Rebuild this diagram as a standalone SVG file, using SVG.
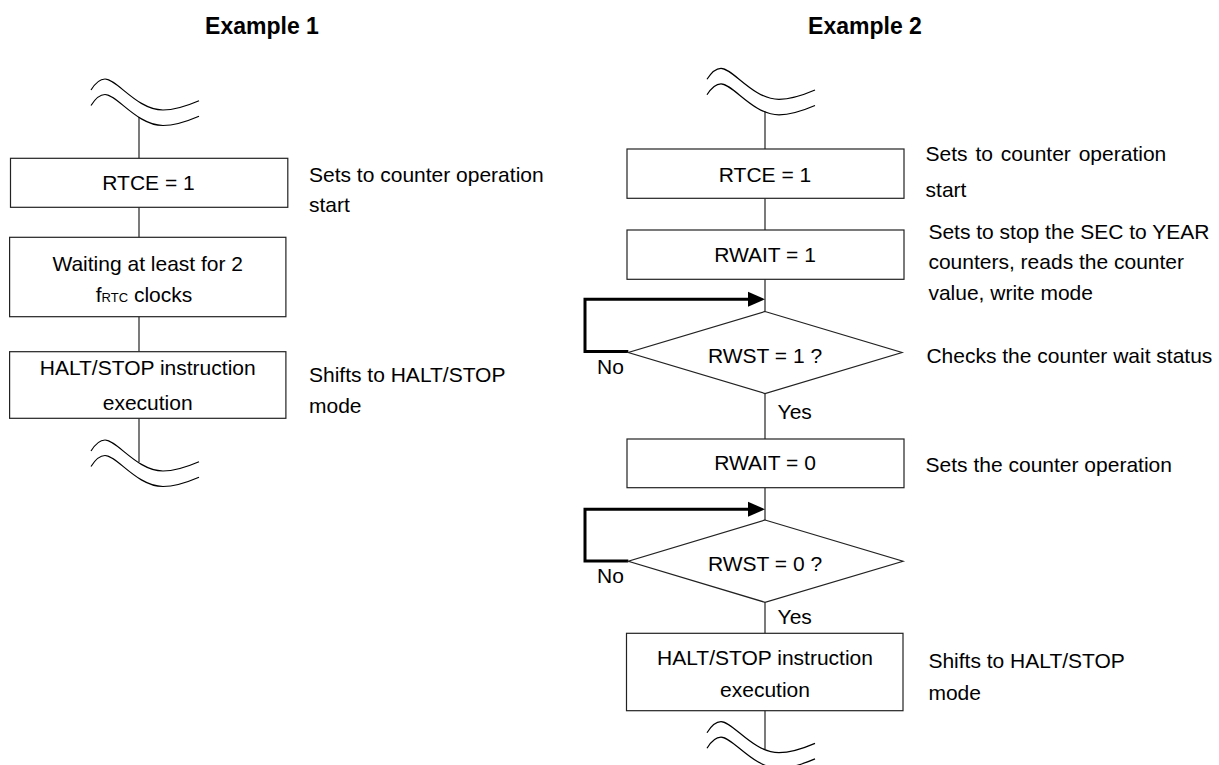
<svg xmlns="http://www.w3.org/2000/svg" width="1219" height="765" viewBox="0 0 1219 765">
<style>
text{font-family:"Liberation Sans",Arial,sans-serif;font-size:21px;fill:#000}
.t{font-weight:bold;font-size:23px;text-anchor:middle}
.c{text-anchor:middle}
.box{fill:#fff;stroke:#222;stroke-width:1.2}
.ln{fill:none;stroke:#222;stroke-width:1.2}
.loop{fill:none;stroke:#000;stroke-width:3}
.brk{fill:none;stroke:#000;stroke-width:1.2}
.sm{font-size:13px}
</style>
<defs>
<g id="break">
<path class="brk" d="M0,11 C5,3 9,0 14,0 C26,0 46,31 72,31 C86,31 98,26 108,21.7"/>
<path class="brk" d="M0,26.5 C5,18.5 9,15.5 14,15.5 C26,15.5 46,46.5 72,46.5 C86,46.5 98,41.5 108,37.2"/>
</g>
</defs>
<text class="t" x="262" y="34">Example 1</text>
<text class="t" x="865" y="34">Example 2</text>
<g id="connectors">
<line class="ln" x1="139" y1="117" x2="139" y2="158.3"/>
<line class="ln" x1="139" y1="207.3" x2="139" y2="237.3"/>
<line class="ln" x1="139" y1="316.7" x2="139" y2="351.7"/>
<line class="ln" x1="139" y1="418.3" x2="139" y2="462"/>
<line class="ln" x1="765" y1="111.5" x2="765" y2="149"/>
<line class="ln" x1="765" y1="198.3" x2="765" y2="230"/>
<line class="ln" x1="765" y1="279.3" x2="765" y2="311.5"/>
<line class="ln" x1="765" y1="393.5" x2="765" y2="439"/>
<line class="ln" x1="765" y1="487.7" x2="765" y2="520"/>
<line class="ln" x1="765" y1="602.3" x2="765" y2="633.3"/>
<line class="ln" x1="765" y1="710.7" x2="765" y2="749"/>
<path class="loop" d="M628.3,351.5 H585 V299.3 H750"/>
<polygon points="748,291.8 765,299.3 748,306.8" fill="#000"/>
<path class="loop" d="M628.3,561 H585 V509.3 H750"/>
<polygon points="748,501.8 765,509.3 748,516.8" fill="#000"/>
</g>
<use href="#break" x="91" y="79"/>
<use href="#break" x="91" y="440"/>
<use href="#break" x="707" y="68.3"/>
<use href="#break" x="707" y="721.7"/>
<g id="ex1-rtce">
<rect class="box" x="10.5" y="158.3" width="277.3" height="49"/>
<text class="c" x="148.5" y="190">RTCE = 1</text>
</g>
<g id="ex1-wait">
<rect class="box" x="9.6" y="237.3" width="276.3" height="79.4"/>
<text class="c" x="147.7" y="270.7">Waiting at least for 2</text>
<text class="c" x="144" y="301.7">f<tspan class="sm">RTC</tspan> clocks</text>
</g>
<g id="ex1-halt">
<rect class="box" x="9.6" y="351.7" width="276.3" height="66.6"/>
<text class="c" x="147.7" y="375">HALT/STOP instruction</text>
<text class="c" x="147.7" y="410">execution</text>
</g>
<g id="ex1-notes">
<text x="309" y="181.7">Sets to counter operation</text>
<text x="309" y="212.3">start</text>
<text x="309" y="381.7">Shifts to HALT/STOP</text>
<text x="309" y="413.3">mode</text>
</g>
<g id="ex2-rtce">
<rect class="box" x="627" y="149" width="277" height="49.3"/>
<text class="c" x="765" y="181.7">RTCE = 1</text>
</g>
<g id="ex2-rwait1">
<rect class="box" x="627" y="230" width="277" height="49.3"/>
<text class="c" x="765" y="261.7">RWAIT = 1</text>
</g>
<g id="ex2-rwst1">
<polygon class="box" points="765,311.5 902,352.5 765,393.5 628.3,352.5"/>
<text class="c" x="765" y="363.3">RWST = 1 ?</text>
<text x="597" y="374">No</text>
<text x="777.6" y="419.3">Yes</text>
</g>
<g id="ex2-rwait0">
<rect class="box" x="627" y="439" width="277" height="48.7"/>
<text class="c" x="765" y="470">RWAIT = 0</text>
</g>
<g id="ex2-rwst0">
<polygon class="box" points="765,520 903,561.2 765,602.3 628.3,561.2"/>
<text class="c" x="765" y="571">RWST = 0 ?</text>
<text x="597" y="583.3">No</text>
<text x="777.6" y="624.3">Yes</text>
</g>
<g id="ex2-halt">
<rect class="box" x="626.5" y="633.3" width="276.5" height="77.4"/>
<text class="c" x="765" y="665">HALT/STOP instruction</text>
<text class="c" x="765" y="696.7">execution</text>
</g>
<g id="ex2-notes">
<text x="925.6" y="161" word-spacing="2">Sets to counter operation</text>
<text x="925.6" y="196.7">start</text>
<text x="928.4" y="239.3">Sets to stop the SEC to YEAR</text>
<text x="928.4" y="269">counters, reads the counter</text>
<text x="928.4" y="300">value, write mode</text>
<text x="926.4" y="363.3">Checks the counter wait status</text>
<text x="925.6" y="471.7">Sets the counter operation</text>
<text x="928.4" y="668.3">Shifts to HALT/STOP</text>
<text x="928.4" y="700">mode</text>
</g>
</svg>
